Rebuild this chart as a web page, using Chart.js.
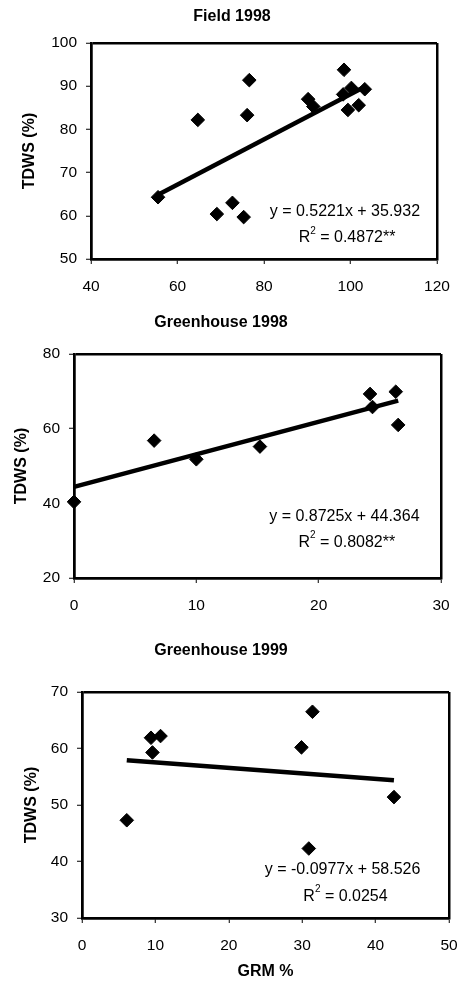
<!DOCTYPE html>
<html>
<head>
<meta charset="utf-8">
<script src="https://cdn.jsdelivr.net/npm/chart.js@4"></script>
<style>
  html, body { margin: 0; padding: 0; background: #fff; }
  body { width: 458px; height: 981px; position: relative; overflow: hidden; }
  canvas { position: absolute; left: 0; display: block; }
</style>
</head>
<body>
<canvas id="field98" width="458" height="300" style="top:0px"></canvas>
<canvas id="gh98" width="458" height="325" style="top:300px"></canvas>
<canvas id="gh99" width="458" height="356" style="top:625px"></canvas>
<script>
// Field 1998 (x: greenhouse 1998 GRM, y: TDWS)
const field98X = [55.5, 64.7, 69.1, 72.7, 75.3, 76.1, 76.6, 90.2, 91.4, 98.5, 98.3, 100.2, 99.4, 101.9, 103.3];
const field98Y = [64.3, 82.2, 60.4, 63.0, 59.7, 83.3, 91.4, 87.0, 85.3, 93.8, 88.1, 89.6, 84.5, 85.6, 89.3];
const field98TrendX = [55.5, 103.3];
const field98TrendY = [64.9, 89.9];

// Greenhouse 1998
const gh98X = [0, 6.55, 10.0, 15.2, 24.2, 24.4, 26.3, 26.5];
const gh98Y = [40.4, 56.8, 51.8, 55.2, 69.3, 65.8, 69.9, 61.0];
const gh98TrendX = [0, 26.5];
const gh98TrendY = [44.4, 67.5];

// Greenhouse 1999
const gh99X = [6.1, 9.4, 9.6, 10.7, 29.9, 31.4, 30.9, 42.5];
const gh99Y = [47.3, 61.9, 59.3, 62.2, 60.2, 66.5, 42.3, 51.4];
const gh99TrendX = [6.1, 42.5];
const gh99TrendY = [57.9, 54.4];

const FONT = "'Liberation Sans', Arial, Helvetica, sans-serif";
const TITLE_SIZE = 16;
const TITLE_LH = TITLE_SIZE * 1.2;

function toPoints(xs, ys) {
  return xs.map((x, i) => ({ x: x, y: ys[i] }));
}

// regression text drawn inside the plot
const equationPlugin = {
  id: 'equation',
  afterDatasetsDraw(chart) {
    const o = chart.options.plugins.equation;
    if (!o) return;
    const ctx = chart.ctx;
    const xs = chart.scales.x, ys = chart.scales.y;
    ctx.save();
    ctx.fillStyle = '#000';
    ctx.textBaseline = 'middle';
    ctx.font = '16px ' + FONT;
    ctx.textAlign = 'center';
    ctx.fillText(o.equation, xs.getPixelForValue(o.eqAt[0]), ys.getPixelForValue(o.eqAt[1]));

    // R² line with a small raised 2
    const rest = ' = ' + o.r2;
    const wR = ctx.measureText('R').width;
    const wRest = ctx.measureText(rest).width;
    ctx.font = '10px ' + FONT;
    const w2 = ctx.measureText('2').width;
    const total = wR + w2 + wRest;
    let x = xs.getPixelForValue(o.r2At[0]) - total / 2;
    const y = ys.getPixelForValue(o.r2At[1]);
    ctx.textAlign = 'left';
    ctx.font = '16px ' + FONT;
    ctx.fillText('R', x, y);
    x += wR;
    ctx.font = '10px ' + FONT;
    ctx.fillText('2', x, y - 7);
    x += w2;
    ctx.font = '16px ' + FONT;
    ctx.fillText(rest, x, y);
    ctx.restore();
  }
};

function makeChart(id, cfg) {
  const canvas = document.getElementById(id);
  const H = canvas.height;
  const [left, top, right, bottom] = cfg.area;
  // left layout padding chosen so the chart title lands where it is in the figure
  const padL = 2 * cfg.titleX - right;
  const edge = (range) => (c) => (c.tick && (c.tick.value === range[0] || c.tick.value === range[1])) ? '#000' : 'rgba(0,0,0,0)';
  const tickFont = { family: FONT, size: 15.5 };
  const titleFont = { family: FONT, size: TITLE_SIZE, weight: 'bold', lineHeight: 1.2 };

  return new Chart(canvas, {
    type: 'scatter',
    data: {
      datasets: [
        {
          label: 'trend',
          data: toPoints(cfg.trendX, cfg.trendY),
          showLine: true,
          borderColor: '#000',
          borderWidth: 4.5,
          pointRadius: 0,
          fill: false,
          clip: false
        },
        {
          label: 'TDWS',
          data: toPoints(cfg.x, cfg.y),
          pointStyle: 'rectRot',
          pointRadius: 6.8,
          pointBackgroundColor: '#000',
          pointBorderColor: '#000',
          pointBorderWidth: 1,
          clip: false
        }
      ]
    },
    options: {
      responsive: false,
      animation: false,
      events: [],
      layout: { padding: { left: padL, right: canvas.width - right, top: 0, bottom: 0 } },
      plugins: {
        legend: { display: false },
        tooltip: { enabled: false },
        title: {
          display: true,
          text: cfg.title,
          color: '#000',
          font: titleFont,
          padding: { top: cfg.titleY - TITLE_LH / 2, bottom: top - cfg.titleY - TITLE_LH / 2 }
        },
        equation: cfg.equation
      },
      scales: {
        x: {
          type: 'linear',
          min: cfg.xRange[0],
          max: cfg.xRange[1],
          afterFit: (s) => {
            s.height = H - bottom;
            s.paddingLeft = 0;
            s.paddingRight = 0;
          },
          ticks: { stepSize: cfg.xStep, color: '#000', padding: 13, font: tickFont },
          grid: {
            color: edge(cfg.xRange),
            lineWidth: 2.5,
            tickColor: '#000',
            tickWidth: 1,
            tickLength: 5
          },
          border: { display: true, color: '#000', width: 2.5 },
          title: cfg.xTitle ? {
            display: true,
            text: cfg.xTitle,
            color: '#000',
            font: titleFont,
            padding: { top: 0, bottom: 0 }
          } : { display: false }
        },
        y: {
          type: 'linear',
          min: cfg.yRange[0],
          max: cfg.yRange[1],
          afterFit: (s) => {
            s.width = left - padL;
            s.paddingTop = 0;
            s.paddingBottom = 0;
          },
          ticks: { stepSize: cfg.yStep, color: '#000', padding: 9, font: tickFont },
          grid: {
            color: edge(cfg.yRange),
            lineWidth: 2.5,
            tickColor: '#000',
            tickWidth: 1,
            tickLength: 5
          },
          border: { display: true, color: '#000', width: 2.5 },
          title: {
            display: true,
            text: 'TDWS (%)',
            color: '#000',
            font: titleFont,
            padding: { top: cfg.yTitleX - padL - TITLE_LH / 2, bottom: 0 }
          }
        }
      }
    },
    plugins: [equationPlugin]
  });
}

makeChart('field98', {
  title: 'Field 1998',
  titleX: 232,
  titleY: 17,
  yTitleX: 30,
  area: [91, 43, 437, 259],
  x: field98X, y: field98Y,
  trendX: field98TrendX, trendY: field98TrendY,
  xRange: [40, 120], xStep: 20,
  yRange: [50, 100], yStep: 10,
  equation: { equation: 'y = 0.5221x + 35.932', r2: '0.4872**', eqAt: [98.7, 60.9], r2At: [99.2, 54.9] }
});

makeChart('gh98', {
  title: 'Greenhouse 1998',
  titleX: 221,
  titleY: 23,
  yTitleX: 22,
  area: [74, 54, 441, 278],
  x: gh98X, y: gh98Y,
  trendX: gh98TrendX, trendY: gh98TrendY,
  xRange: [0, 30], xStep: 10,
  yRange: [20, 80], yStep: 20,
  equation: { equation: 'y = 0.8725x + 44.364', r2: '0.8082**', eqAt: [22.1, 36.5], r2At: [22.3, 29.6] }
});

makeChart('gh99', {
  title: 'Greenhouse 1999',
  titleX: 221,
  titleY: 26,
  yTitleX: 32,
  area: [82, 67, 449, 293],
  x: gh99X, y: gh99Y,
  trendX: gh99TrendX, trendY: gh99TrendY,
  xRange: [0, 50], xStep: 10,
  yRange: [30, 70], yStep: 10,
  xTitle: 'GRM %',
  equation: { equation: 'y = -0.0977x + 58.526', r2: '0.0254', eqAt: [35.5, 38.6], r2At: [35.9, 33.8] }
});
</script>
</body>
</html>
